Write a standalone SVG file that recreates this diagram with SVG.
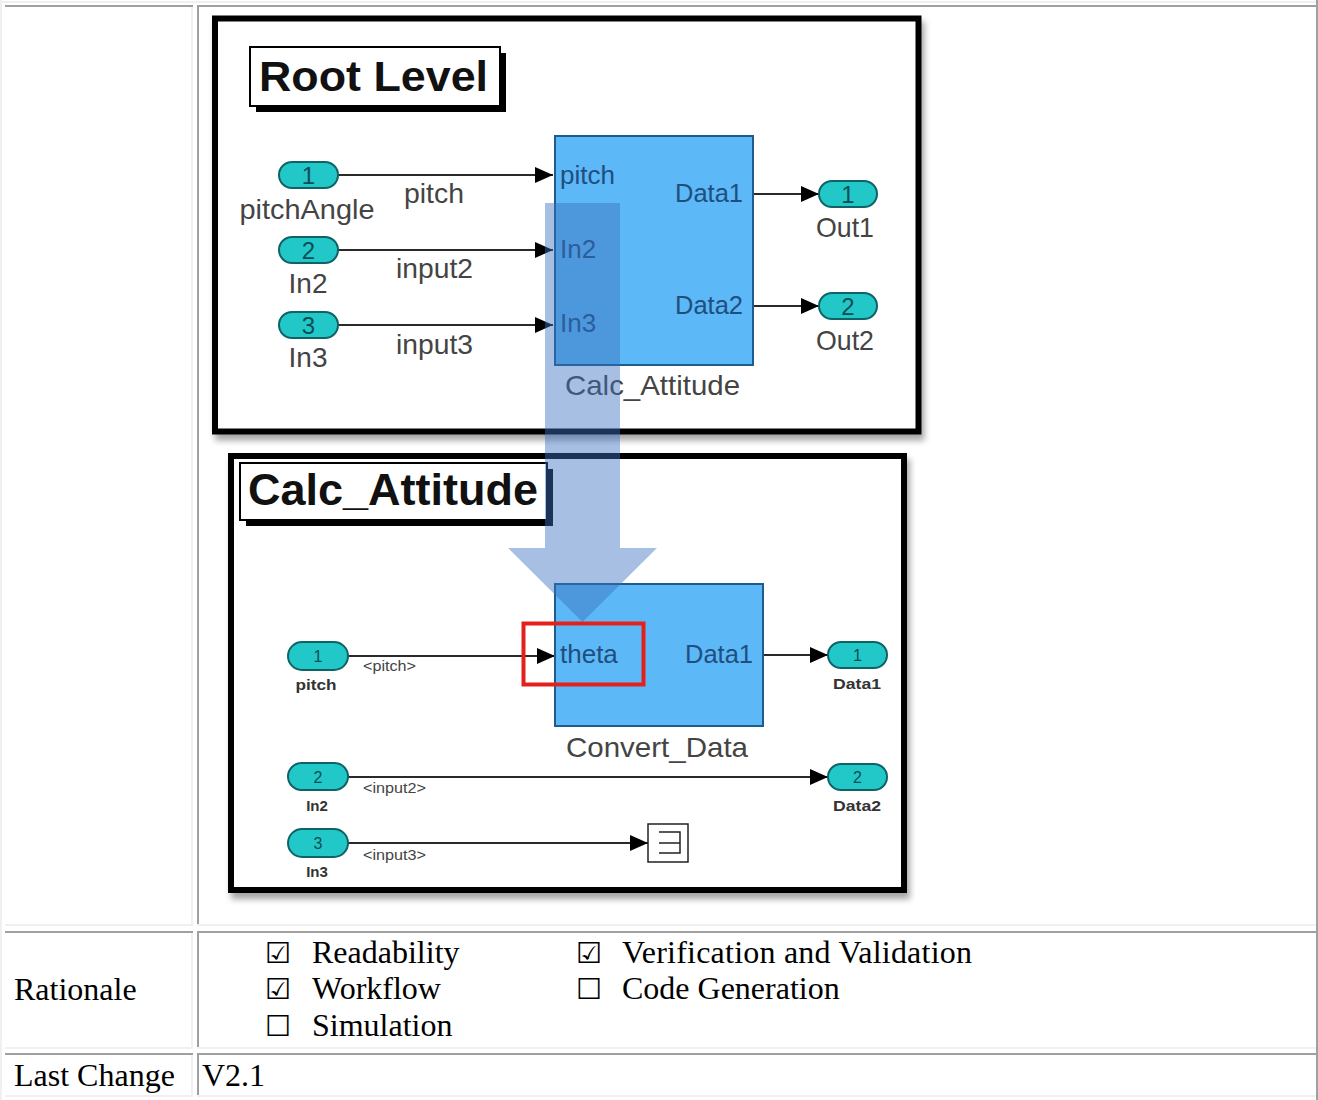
<svg xmlns="http://www.w3.org/2000/svg" width="1318" height="1100" viewBox="0 0 1318 1100">
<style>
  .sans { font-family: "Liberation Sans", Arial, sans-serif; }
  .serif { font-family: "Liberation Serif", "Times New Roman", serif; font-size: 32px; fill: #000; }
  .box { font-family: "DejaVu Sans", sans-serif; font-size: 29px; font-weight: bold; fill: #000; }
  .dark { fill: #a0a0a0; }
  .light { fill: #f0f0f0; }
  .frame { fill: #fff; stroke: #000; stroke-width: 6; }
  .title { font-family: "Liberation Sans", Arial, sans-serif; font-weight: bold; fill: #111; }
  .blk { fill: #5cb8f6; stroke: #1d5c8c; stroke-width: 2; }
  .port { font-family: "Liberation Sans", Arial, sans-serif; fill: #1e4f80; font-size: 26px; }
  .lbl { font-family: "Liberation Sans", Arial, sans-serif; fill: #444; font-size: 28px; }
  .oval { fill: #22c8c8; stroke: #0f6366; stroke-width: 2; }
  .num { font-family: "Liberation Sans", Arial, sans-serif; fill: #0b4d55; text-anchor: middle; }
  .small { font-family: "Liberation Sans", Arial, sans-serif; fill: #333; font-size: 15px; font-weight: bold; }
  .sig { font-family: "Liberation Sans", Arial, sans-serif; fill: #444; font-size: 14px; }
  .wire { stroke: #2a2a2a; stroke-width: 2; fill: none; marker-end: url(#arr); }
</style>
<defs>
  <marker id="arr" viewBox="0 0 18 16" markerWidth="18" markerHeight="16" refX="18" refY="8" markerUnits="userSpaceOnUse" orient="auto">
    <path d="M0,0 L18,8 L0,16 Z" fill="#000"/>
  </marker>
  <filter id="shadow" x="-5%" y="-5%" width="115%" height="115%">
    <feDropShadow dx="3" dy="6" stdDeviation="3" flood-color="#000" flood-opacity="0.35"/>
  </filter>
</defs>

<!-- table grid -->
<g id="table">
  <rect x="0" y="0" width="1318" height="1100" fill="#fff"/>
  <rect class="light" x="0" y="1" width="1318" height="2"/>
  <rect class="light" x="0" y="0" width="2" height="1100"/>
  <rect class="dark" x="1316" y="0" width="2" height="1100"/>
  <!-- row 1 -->
  <rect class="dark" x="5" y="5" width="188" height="2"/>
  <rect class="dark" x="197" y="5" width="1119" height="2"/>
  <rect class="dark" x="197" y="5" width="2" height="921"/>
  <rect class="light" x="191" y="7" width="2" height="919"/>
  <rect class="light" x="5" y="924" width="188" height="2"/>
  <rect class="light" x="197" y="924" width="1119" height="2"/>
  <!-- row 2 -->
  <rect class="dark" x="5" y="931" width="188" height="2"/>
  <rect class="dark" x="197" y="931" width="1119" height="2"/>
  <rect class="dark" x="197" y="931" width="2" height="118"/>
  <rect class="light" x="191" y="933" width="2" height="116"/>
  <rect class="light" x="5" y="1047" width="188" height="2"/>
  <rect class="light" x="197" y="1047" width="1119" height="2"/>
  <!-- row 3 -->
  <rect class="dark" x="5" y="1053" width="188" height="2"/>
  <rect class="dark" x="197" y="1053" width="1119" height="2"/>
  <rect class="dark" x="197" y="1053" width="2" height="44"/>
  <rect class="light" x="191" y="1055" width="2" height="42"/>
  <rect class="light" x="5" y="1095" width="188" height="2"/>
  <rect class="light" x="197" y="1095" width="1119" height="2"/>

  <text class="serif" x="14" y="1000">Rationale</text>
  <text class="box" x="265" y="963">☑</text>
  <text class="box" x="265" y="999">☑</text>
  <text class="box" x="265" y="1036">☐</text>
  <text class="box" x="576" y="963">☑</text>
  <text class="box" x="576" y="999">☐</text>
  <text class="serif" x="312" y="963">Readability</text>
  <text class="serif" x="312" y="999">Workflow</text>
  <text class="serif" x="312" y="1036">Simulation</text>
  <text class="serif" x="622" y="963" textLength="350">Verification and Validation</text>
  <text class="serif" x="622" y="999">Code Generation</text>
  <text class="serif" x="14" y="1086">Last Change</text>
  <text class="serif" x="202" y="1086">V2.1</text>
</g>

<!-- subsystem frames -->
<g id="root-frame">
  <rect class="frame" x="215" y="18.5" width="703.5" height="413" filter="url(#shadow)"/>
  <rect x="256" y="53" width="250" height="59" fill="#000"/>
  <rect x="250" y="47" width="250" height="59" fill="#fff" stroke="#000" stroke-width="2"/>
  <text class="title" x="259" y="91" font-size="43" textLength="229" lengthAdjust="spacingAndGlyphs">Root Level</text>
</g>
<g id="calc-frame">
  <rect class="frame" x="231" y="456" width="673" height="434" filter="url(#shadow)"/>
  <rect x="246" y="469" width="307" height="57" fill="#000"/>
  <rect x="240" y="463" width="307" height="57" fill="#fff" stroke="#000" stroke-width="2"/>
  <text class="title" x="248" y="505" font-size="45" textLength="290" lengthAdjust="spacingAndGlyphs">Calc_Attitude</text>
</g>

<!-- connectors -->
<g id="connectors">
  <line class="wire" x1="338" y1="175" x2="553" y2="175"/>
  <line class="wire" x1="338" y1="250" x2="553" y2="250"/>
  <line class="wire" x1="338" y1="325" x2="553" y2="325"/>
  <line class="wire" x1="753" y1="194" x2="819" y2="194"/>
  <line class="wire" x1="753" y1="306" x2="819" y2="306"/>
  <line class="wire" x1="348" y1="656" x2="555" y2="656"/>
  <line class="wire" x1="763" y1="655" x2="828" y2="655"/>
  <line class="wire" x1="348" y1="777" x2="828" y2="777"/>
  <line class="wire" x1="348" y1="843" x2="648" y2="843"/>
  <text class="lbl" x="404" y="203" textLength="60" lengthAdjust="spacingAndGlyphs">pitch</text>
  <text class="lbl" x="396" y="278" textLength="77" lengthAdjust="spacingAndGlyphs">input2</text>
  <text class="lbl" x="396" y="354" textLength="77" lengthAdjust="spacingAndGlyphs">input3</text>
  <text class="sig" x="363" y="671" textLength="53" lengthAdjust="spacingAndGlyphs">&lt;pitch&gt;</text>
  <text class="sig" x="363" y="793" textLength="63" lengthAdjust="spacingAndGlyphs">&lt;input2&gt;</text>
  <text class="sig" x="363" y="860" textLength="63" lengthAdjust="spacingAndGlyphs">&lt;input3&gt;</text>
</g>

<!-- root level ports -->
<g id="in-pitchAngle">
  <rect class="oval" x="279" y="162" width="59" height="26" rx="13"/>
  <text class="num" x="308.5" y="184" font-size="24">1</text>
  <text class="lbl" x="307" y="219" text-anchor="middle" textLength="135" lengthAdjust="spacingAndGlyphs">pitchAngle</text>
</g>
<g id="in-In2">
  <rect class="oval" x="279" y="237" width="59" height="26" rx="13"/>
  <text class="num" x="308.5" y="259" font-size="24">2</text>
  <text class="lbl" x="308" y="293" text-anchor="middle">In2</text>
</g>
<g id="in-In3">
  <rect class="oval" x="279" y="312" width="59" height="26" rx="13"/>
  <text class="num" x="308.5" y="334" font-size="24">3</text>
  <text class="lbl" x="308" y="367" text-anchor="middle">In3</text>
</g>
<g id="calc-attitude-block">
  <rect class="blk" x="555" y="136" width="198" height="229"/>
  <text class="port" x="560" y="184">pitch</text>
  <text class="port" x="560" y="258">In2</text>
  <text class="port" x="560" y="332">In3</text>
  <text class="port" x="675" y="202" textLength="68" lengthAdjust="spacingAndGlyphs">Data1</text>
  <text class="port" x="675" y="314" textLength="68" lengthAdjust="spacingAndGlyphs">Data2</text>
  <text class="lbl" x="565" y="395" fill="#555" textLength="175" lengthAdjust="spacingAndGlyphs">Calc_Attitude</text>
</g>
<g id="out-Out1">
  <rect class="oval" x="819" y="181" width="58" height="26" rx="13"/>
  <text class="num" x="848" y="203" font-size="24">1</text>
  <text class="lbl" x="845" y="237" text-anchor="middle" textLength="58" lengthAdjust="spacingAndGlyphs">Out1</text>
</g>
<g id="out-Out2">
  <rect class="oval" x="819" y="293" width="58" height="26" rx="13"/>
  <text class="num" x="848" y="315" font-size="24">2</text>
  <text class="lbl" x="845" y="350" text-anchor="middle" textLength="58" lengthAdjust="spacingAndGlyphs">Out2</text>
</g>

<!-- Calc_Attitude contents -->
<g id="in-pitch">
  <rect class="oval" x="288" y="642" width="60" height="28" rx="14"/>
  <text class="num" x="318" y="662" font-size="16">1</text>
  <text class="small" x="316" y="690" text-anchor="middle" textLength="41" lengthAdjust="spacingAndGlyphs">pitch</text>
</g>
<g id="in-input2">
  <rect class="oval" x="288" y="763" width="60" height="27" rx="13.5"/>
  <text class="num" x="318" y="783" font-size="16">2</text>
  <text class="small" x="317" y="811" text-anchor="middle">In2</text>
</g>
<g id="in-input3">
  <rect class="oval" x="288" y="829" width="60" height="28" rx="14"/>
  <text class="num" x="318" y="849" font-size="16">3</text>
  <text class="small" x="317" y="877" text-anchor="middle">In3</text>
</g>
<g id="convert-data-block">
  <rect class="blk" x="555" y="584" width="208" height="142"/>
  <text class="port" x="560" y="663" font-size="27">theta</text>
  <text class="port" x="685" y="663" font-size="27" textLength="68" lengthAdjust="spacingAndGlyphs">Data1</text>
  <text class="lbl" x="566" y="757" fill="#555" textLength="182" lengthAdjust="spacingAndGlyphs">Convert_Data</text>
</g>
<g id="out-Data1">
  <rect class="oval" x="828" y="642" width="59" height="26" rx="13"/>
  <text class="num" x="857.5" y="661" font-size="16">1</text>
  <text class="small" x="857" y="689" text-anchor="middle" textLength="48" lengthAdjust="spacingAndGlyphs">Data1</text>
</g>
<g id="out-Data2">
  <rect class="oval" x="828" y="764" width="59" height="26" rx="13"/>
  <text class="num" x="857.5" y="783" font-size="16">2</text>
  <text class="small" x="857" y="811" text-anchor="middle" textLength="48" lengthAdjust="spacingAndGlyphs">Data2</text>
</g>
<g id="terminator">
  <rect x="648" y="824" width="40" height="38" fill="#fff" stroke="#222" stroke-width="1.5"/>
  <path d="M659,832 H680 V853 H659 M659,843 H680" fill="none" stroke="#222" stroke-width="1.5"/>
</g>

<!-- drill-down arrow and highlight -->
<g id="drilldown-arrow">
  <path d="M545,203 H620 V548 H657 L582.5,622 L508,548 H545 Z" fill="#3c72bf" fill-opacity="0.45"/>
</g>
<g id="highlight">
  <rect x="523.5" y="623.5" width="120" height="61" fill="none" stroke="#e4201c" stroke-width="4"/>
</g>
</svg>
